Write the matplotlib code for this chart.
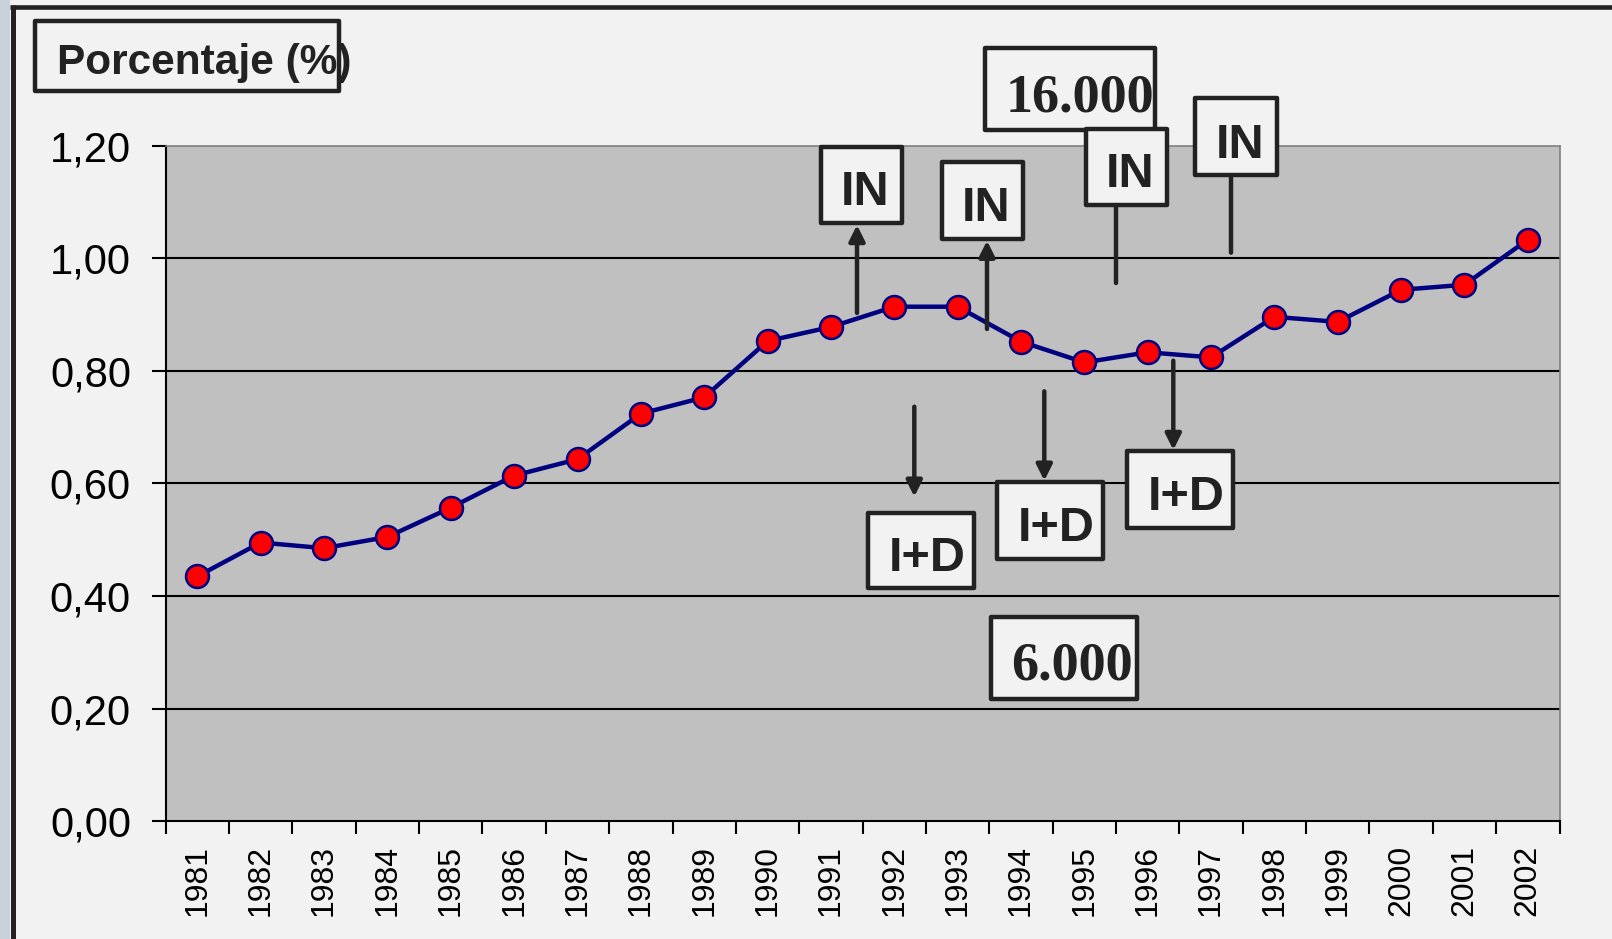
import matplotlib
matplotlib.use("Agg")
import matplotlib.pyplot as plt
from matplotlib.patches import Rectangle, FancyArrowPatch
from matplotlib.lines import Line2D
import numpy as np

# datos
years = [str(y) for y in range(1981, 2003)]
porcentaje = [0.435, 0.495, 0.485, 0.505, 0.557, 0.614, 0.643, 0.724, 0.753, 0.853, 0.878,
              0.914, 0.914, 0.852, 0.815, 0.833, 0.824, 0.896, 0.887, 0.944, 0.953, 1.033]
y_ticks = [0.0, 0.2, 0.4, 0.6, 0.8, 1.0, 1.2]
y_tick_labels = ["0,00", "0,20", "0,40", "0,60", "0,80", "1,00", "1,20"]
titulo = "Porcentaje (%)"
etiquetas_in = ["IN", "IN", "IN", "IN"]
etiquetas_id = ["I+D", "I+D", "I+D"]
etiquetas_num = ["16.000", "6.000"]

W, H = 1612, 939
SANS = "Liberation Sans"
SERIF = "Liberation Serif"
DARK = "#222222"


def fx(x):
    return x / W


def fy(y):
    return 1 - y / H


fig = plt.figure(figsize=(W / 100, H / 100), dpi=100)
fig.patch.set_facecolor("#f2f2f2")

ax = fig.add_axes([fx(165.7), fy(821.2), fx(1559.5) - fx(165.7), fy(145.7) - fy(821.2)])
ax.set_facecolor("#c0c0c0")
x = np.arange(len(years))
ax.set_xlim(-0.5, len(years) - 0.5)
ax.set_ylim(y_ticks[0], y_ticks[-1])

ax.hlines(y_ticks[1:-1], -0.5, len(years) - 0.5, color="black", lw=1.5, zorder=1)
ax.plot(x, porcentaje, color="#000080", lw=3.2, marker="o", ms=16.5,
        mfc="red", mec="#000080", mew=1.8, zorder=3, clip_on=False)

ax.set_yticks(y_ticks)
ax.set_yticklabels(y_tick_labels, fontsize=30, family=SANS)
ax.tick_params(axis="y", length=10, width=1.5, pad=15, colors="black")

ax.set_xticks(np.arange(len(years) + 1) - 0.5)
ax.set_xticklabels([])
ax.set_xticks(x, minor=True)
ax.set_xticklabels(years, minor=True, rotation=90, fontsize=23, family=SANS)
ax.tick_params(axis="x", which="major", length=9, width=1.5, direction="out")
ax.tick_params(axis="x", which="minor", length=0, pad=17)

for s in ["left", "bottom"]:
    ax.spines[s].set_color("black")
    ax.spines[s].set_linewidth(1.5)
for s in ["top", "right"]:
    ax.spines[s].set_color("#808080")
    ax.spines[s].set_linewidth(1.2)

# marco exterior
fig.add_artist(Rectangle((0, 0), fx(10), 1, transform=fig.transFigure,
                         facecolor="#c9d1da", edgecolor="none", zorder=0))
fig.add_artist(Line2D([fx(12.5), fx(12.5)], [0, fy(4.5)], transform=fig.transFigure,
                      color=DARK, lw=3.6, solid_capstyle="butt"))
fig.add_artist(Line2D([fx(10), 1], [fy(6.8), fy(6.8)], transform=fig.transFigure,
                      color=DARK, lw=3.3, solid_capstyle="butt"))


def caja(x0, y0, x1, y1, z=5):
    fig.add_artist(Rectangle((fx(x0), fy(y1)), fx(x1) - fx(x0), fy(y0) - fy(y1),
                             transform=fig.transFigure, facecolor="#f2f2f2",
                             edgecolor=DARK, lw=3.2, joinstyle="round", zorder=z))


def texto(cx, base, s, size, family, z=6, ha="center"):
    fig.text(fx(cx), fy(base), s, ha=ha, va="baseline", fontsize=size,
             fontweight="bold", family=family, color=DARK, zorder=z)


def flecha(xp, y0, y1, head=True):
    style = "-|>,head_length=0.94,head_width=0.47" if head else "-"
    fig.add_artist(FancyArrowPatch((fx(xp), fy(y0)), (fx(xp), fy(y1)),
                                   transform=fig.transFigure, arrowstyle=style,
                                   mutation_scale=10, lw=3.2, color=DARK,
                                   shrinkA=0, shrinkB=0, zorder=4))


# titulo
caja(35, 20.7, 339.3, 91)
texto(57.3, 74, titulo, 30.5, SANS, ha="left")

# cajas y flechas
caja_in = [(820.7, 146.7, 902, 223), (942, 162, 1023, 239), (1086, 129, 1167, 205), (1195, 97.7, 1277, 175)]
texto_in = [(865, 205), (986.3, 220.7), (1130.5, 186.7), (1239.7, 157.7)]
caja_id = [(867.7, 512.7, 974, 588.3), (997.3, 482, 1103.3, 558.7), (1126.7, 451, 1232.7, 527.7)]
texto_id = [(926.7, 570.7), (1056.3, 540.7), (1185.8, 510)]
caja_num = [(985, 48, 1155, 130), (991, 616.7, 1136.7, 699.3)]
texto_num = [(1080, 111.7), (1072.3, 680)]
flechas = [(857, 313, 225, True), (987, 329, 240.7, True), (1116, 206.7, 283, False),
           (1231, 175.7, 252.7, False), (914.3, 406.7, 496.7, True),
           (1044.3, 391.3, 480.7, True), (1173.3, 360.7, 450, True)]

for (xp, a, b, h) in flechas:
    flecha(xp, a, b, h)

for (b, t, s) in zip(caja_num, texto_num, etiquetas_num):
    caja(*b, z=5)
    texto(t[0], t[1], s, 39, SERIF, z=6)

for (b, t, s) in zip(caja_in, texto_in, etiquetas_in):
    caja(*b, z=7)
    texto(t[0], t[1], s, 35, SANS, z=8)

for (b, t, s) in zip(caja_id, texto_id, etiquetas_id):
    caja(*b, z=7)
    texto(t[0], t[1], s, 35, SANS, z=8)

fig.savefig("out.png", dpi=100, facecolor=fig.get_facecolor())
